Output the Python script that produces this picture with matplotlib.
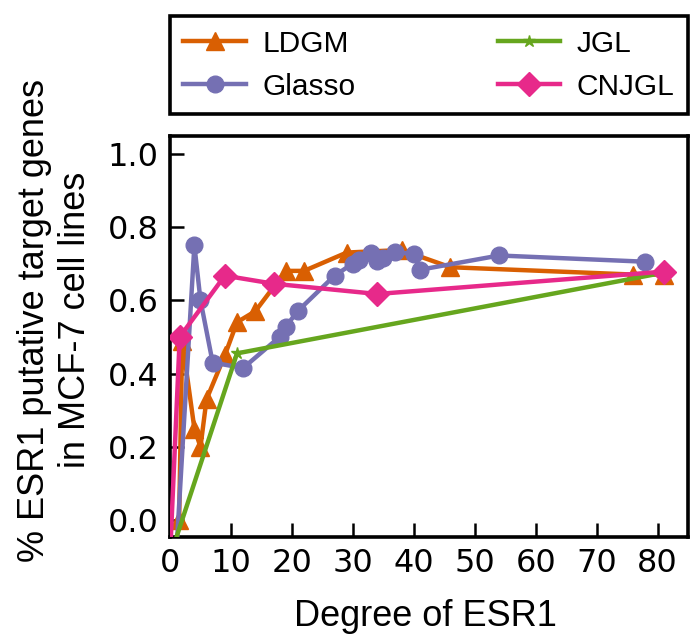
import matplotlib
matplotlib.use("Agg")
import matplotlib.pyplot as plt

# Data
ldgm_x = [1.5, 2, 4, 5, 6, 9, 11, 14, 19, 22, 29, 38, 46, 76, 81]
ldgm_y = [0.0, 0.49, 0.25, 0.20, 0.33, 0.45, 0.54, 0.57, 0.68, 0.68, 0.73, 0.737, 0.69, 0.67, 0.67]

glasso_x = [1, 4, 5, 7, 12, 18, 19, 21, 27, 30, 31, 33, 34, 35, 37, 40, 41, 54, 78]
glasso_y = [-0.1, 0.75, 0.60, 0.43, 0.415, 0.50, 0.528, 0.571, 0.667, 0.70, 0.71, 0.728, 0.706, 0.715, 0.731, 0.726, 0.683, 0.722, 0.705]

jgl_x = [0, 11, 81]
jgl_y = [-0.1, 0.455, 0.675]

cnjgl_x = [0, 1.6, 9, 17, 34, 81]
cnjgl_y = [-0.1, 0.50, 0.667, 0.645, 0.617, 0.678]

xticks = [0, 10, 20, 30, 40, 50, 60, 70, 80]
yticks = [0.0, 0.2, 0.4, 0.6, 0.8, 1.0]

c_ldgm = "#D95F02"
c_glasso = "#7570B3"
c_jgl = "#66A61E"
c_cnjgl = "#E7298A"

fig = plt.figure(figsize=(6.91, 6.39), dpi=100)
ax = fig.add_axes([170/691, 1-537/639, 518/691, 401/639])

lw = 3.2
ax.plot(ldgm_x, ldgm_y, color=c_ldgm, lw=lw, marker="^", ms=13, mec=c_ldgm, label="LDGM", zorder=3)
ax.plot(glasso_x, glasso_y, color=c_glasso, lw=lw, marker="o", ms=12, mec=c_glasso, label="Glasso", zorder=4)
ax.plot(jgl_x, jgl_y, color=c_jgl, lw=lw, marker="*", ms=9, mec=c_jgl, label="JGL", zorder=5)
ax.plot(cnjgl_x, cnjgl_y, color=c_cnjgl, lw=lw, marker="D", ms=12, mec=c_cnjgl, label="CNJGL", zorder=6)

ax.set_xlim(0, 85)
ax.set_ylim(-0.046, 1.048)
ax.set_xticks(xticks)
ax.set_yticks(yticks)
ax.set_xticklabels([str(t) for t in xticks])
ax.set_yticklabels([f"{t:.1f}" for t in yticks])
ax.tick_params(direction="in", length=10, width=1.8, labelsize=23, top=False, right=False, pad=8)
for s in ax.spines.values():
    s.set_linewidth(2.6)
    s.set_color("black")

ax.set_xlabel("Degree of ESR1", fontsize=26, family="Liberation Sans")
ax.xaxis.set_label_coords(0.493, -0.155)
ax.set_ylabel("% ESR1 putative target genes\nin MCF-7 cell lines", fontsize=26,
              family="Liberation Sans")
ax.yaxis.set_label_coords(-0.149, 0.541)

leg = ax.legend(loc="lower left", bbox_to_anchor=(0, 1.055, 1, 0.248), mode="expand",
                ncol=2, prop={"family": "Liberation Sans", "size": 21.5},
                frameon=True, fancybox=False, framealpha=1, numpoints=1, handlelength=2.1,
                handletextpad=0.55, borderaxespad=0, labelspacing=0.5,
                borderpad=0.45, columnspacing=1.0)
fr = leg.get_frame()
fr.set_edgecolor("black")
fr.set_linewidth(2.6)
for line in leg.get_lines():
    line.set_linewidth(3.2)

fig.savefig("out.png", dpi=100)
